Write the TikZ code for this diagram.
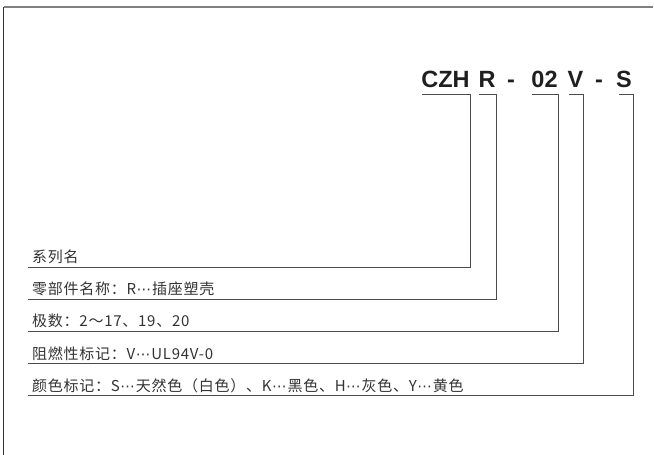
\documentclass[tikz,border=0pt]{standalone}
\usepackage{fontspec}
\setmainfont{Liberation Sans}
\newfontfamily\cjk[LetterSpace=5]{Noto Sans CJK SC}
\newfontfamily\symf{DejaVu Sans}
\newcommand{\mdots}{\kern0.5pt{\symf\fontsize{14.5}{15}\selectfont ⋯}\kern1pt}
\begin{document}
\begin{tikzpicture}[x=1pt,y=-1pt,
  title/.style={font=\fontsize{23.5}{24}\selectfont\bfseries, text=black!88, inner sep=0pt, anchor=base},
  lbl/.style={font=\cjk\fontsize{15}{16}\selectfont, text=black!80, inner sep=0pt, anchor=base west},
  link/.style={draw=black!70, line width=1pt},
  frametop/.style={draw=black!50, line width=2pt},
  frameleft/.style={draw=black!80, line width=1.4pt}]
\useasboundingbox (0,0) rectangle (654,455);
% frame
\coordinate (ftr) at (653,6.5);
\coordinate (ftl) at (3.5,6.5);
\coordinate (fbl) at (3.5,455);
\draw[frametop] (ftl) -- (ftr);
\draw[frameleft] (ftl) -- (fbl);
% title
\node[title] (t1) at (445.5,87) {CZH};
\node[title] (t2) at (487,87) {R};
\node[title] (d1) at (511,87) {-};
\node[title] (t3) at (544.5,87) {02};
\node[title] (t4) at (575.5,87) {V};
\node[title] (d2) at (599,87) {-};
\node[title] (t5) at (624,87) {S};
% labels
\node[lbl] (l1) at (32,262.5) {系列名};
\node[lbl] (l2) at (32,294.5) {零部件名称：R\mdots 插座塑壳};
\node[lbl] (l3) at (32,326.5) {极数：2～17、19、20};
\node[lbl] (l4) at (32,359) {阻燃性标记：V\mdots UL94V-0};
\node[lbl] (l5) at (32,391) {颜色标记：S\mdots 天然色（白色）、K\mdots 黑色、H\mdots 灰色、Y\mdots 黄色};
% bracket start points (under title groups)
\coordinate (s1) at (422,94);
\coordinate (s2) at (479,94);
\coordinate (s3) at (532,94);
\coordinate (s4) at (569,94);
\coordinate (s5) at (619,94);
% corners
\coordinate (c1) at (470,267);
\coordinate (c2) at (496,299);
\coordinate (c3) at (558,331);
\coordinate (c4) at (583.5,363.5);
\coordinate (c5) at (633,395.5);
% free ends under labels
\coordinate (e1) at (28,267);
\coordinate (e2) at (28,299);
\coordinate (e3) at (28,331);
\coordinate (e4) at (28,363.5);
\coordinate (e5) at (28,395.5);
\draw[link] (s1) -| (c1) -- (e1);
\draw[link] (s2) -| (c2) -- (e2);
\draw[link] (s3) -| (c3) -- (e3);
\draw[link] (s4) -| (c4) -- (e4);
\draw[link] (s5) -| (c5) -- (e5);
\end{tikzpicture}
\end{document}
